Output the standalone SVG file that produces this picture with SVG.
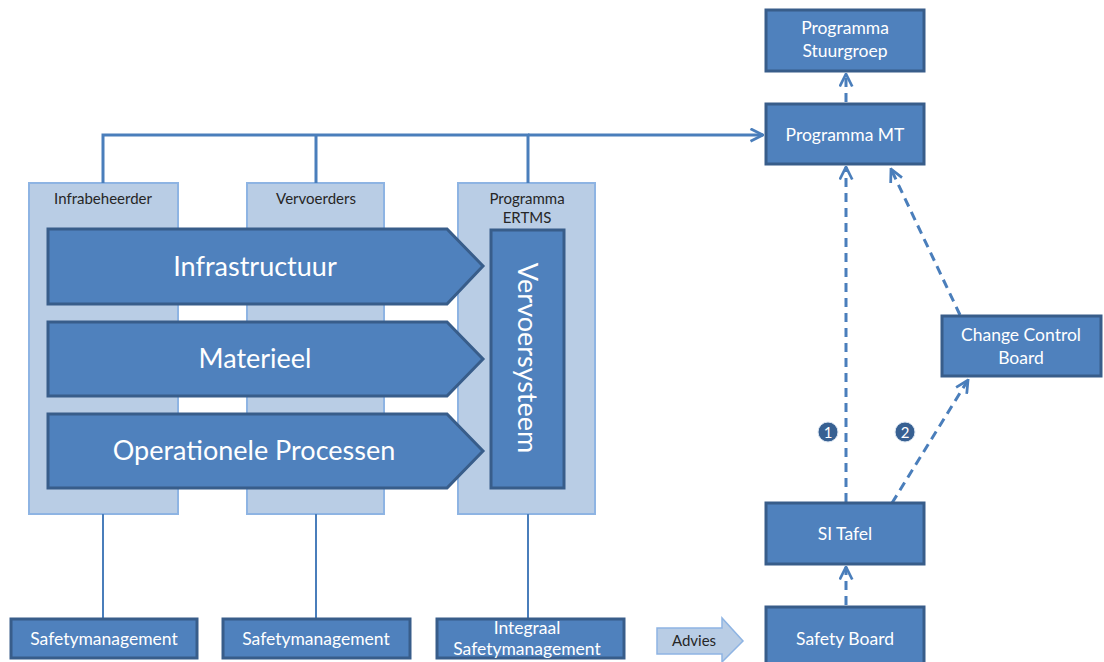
<svg xmlns="http://www.w3.org/2000/svg" width="1104" height="662" viewBox="0 0 1104 662">
  <defs>
    <style>
      .panel { fill: #B9CDE5; stroke: #8EB4E3; stroke-width: 2; }
      .box { fill: #4F81BD; stroke: #385D8A; stroke-width: 3; }
      .big { fill: #4F81BD; stroke: #385D8A; stroke-width: 3; stroke-linejoin: miter; }
      .t { font-family: Lato, "Open Sans", "Liberation Sans", sans-serif; fill: #FFFFFF; text-anchor: middle; }
      .s16 { font-size: 17.5px; }
      .s24 { font-size: 27px; }
      .lbl { font-family: Lato, "Open Sans", "Liberation Sans", sans-serif; font-size: 15px; fill: #262626; text-anchor: middle; }
      .solid { fill: none; stroke: #4A7EBB; stroke-width: 3; }
      .thin { fill: none; stroke: #4A7EBB; stroke-width: 2; }
      .dash { fill: none; stroke: #4A7EBB; stroke-width: 3; stroke-dasharray: 9 6; }
      .num { fill: #376092; stroke: #DCE6F2; stroke-width: 1; }
    </style>
    <marker id="open" viewBox="0 0 12 12" refX="11" refY="6" markerWidth="5" markerHeight="5" markerUnits="strokeWidth" orient="auto">
      <path d="M1,1 L11,6 L1,11" fill="none" stroke="#4A7EBB" stroke-width="2.2"/>
    </marker>
  </defs>

  <rect width="1104" height="662" fill="#FFFFFF"/>

  <!-- organisation columns -->
  <g id="infrabeheerder">
    <rect class="panel" x="29" y="183" width="149" height="331"/>
    <text class="lbl" x="103" y="204">Infrabeheerder</text>
  </g>
  <g id="vervoerders">
    <rect class="panel" x="247" y="183" width="137" height="331"/>
    <text class="lbl" x="316" y="204">Vervoerders</text>
  </g>
  <g id="programma-ertms">
    <rect class="panel" x="458" y="183" width="137" height="331"/>
    <text class="lbl" x="527" y="204">Programma</text>
    <text class="lbl" x="527" y="223">ERTMS</text>
  </g>

  <!-- connectors -->
  <g id="connectors">
    <path class="solid" d="M103,183 V135 H528 V183 M316,135 V183" />
    <line class="solid" x1="528" y1="135" x2="763" y2="135" marker-end="url(#open)"/>
    <line class="thin" x1="103" y1="514" x2="103" y2="618"/>
    <line class="thin" x1="316" y1="514" x2="316" y2="618"/>
    <line class="thin" x1="528" y1="514" x2="528" y2="618"/>
    <line class="dash" x1="846" y1="102" x2="846" y2="74" marker-end="url(#open)"/>
    <line class="dash" x1="846" y1="502" x2="846" y2="167" marker-end="url(#open)"/>
    <line class="dash" x1="960" y1="315" x2="891" y2="169" marker-end="url(#open)"/>
    <line class="dash" x1="892" y1="503" x2="968" y2="380" marker-end="url(#open)"/>
    <line class="dash" x1="846" y1="605" x2="846" y2="567" marker-end="url(#open)"/>
  </g>

  <!-- process chevrons -->
  <g id="infrastructuur">
    <polygon class="big" points="48,229 447,229 483,266 447,304 48,304"/>
    <text class="t s24" x="255" y="276">Infrastructuur</text>
  </g>
  <g id="materieel">
    <polygon class="big" points="48,322 447,322 483,359 447,396 48,396"/>
    <text class="t s24" x="255" y="368">Materieel</text>
  </g>
  <g id="operationele-processen">
    <polygon class="big" points="48,414 447,414 483,451 447,488 48,488"/>
    <text class="t s24" x="254" y="460">Operationele Processen</text>
  </g>
  <g id="vervoersysteem">
    <rect class="big" x="491" y="230" width="73" height="258"/>
    <text class="t s24" transform="translate(518,358) rotate(90)">Vervoersysteem</text>
  </g>

  <!-- safety management -->
  <g id="safetymanagement-1">
    <rect class="box" x="11" y="619" width="186" height="39"/>
    <text class="t s16" x="104" y="645">Safetymanagement</text>
  </g>
  <g id="safetymanagement-2">
    <rect class="box" x="223" y="619" width="187" height="39"/>
    <text class="t s16" x="316" y="645">Safetymanagement</text>
  </g>
  <g id="integraal-safetymanagement">
    <rect class="box" x="437" y="619" width="187" height="39"/>
    <text class="t s16" x="527" y="634">Integraal</text>
    <text class="t s16" x="527" y="655">Safetymanagement</text>
  </g>
  <g id="advies">
    <polygon points="657,628 722,628 722,618 743,641 722,662 722,654 657,654" fill="#B9CDE5" stroke="#8EB4E3" stroke-width="1.5"/>
    <text class="lbl" x="694" y="646">Advies</text>
  </g>

  <!-- governance -->
  <g id="programma-stuurgroep">
    <rect class="box" x="766" y="10" width="158" height="61"/>
    <text class="t s16" x="845" y="34">Programma</text>
    <text class="t s16" x="845" y="57">Stuurgroep</text>
  </g>
  <g id="programma-mt">
    <rect class="box" x="766" y="104" width="158" height="60"/>
    <text class="t s16" x="845" y="141">Programma  MT</text>
  </g>
  <g id="change-control-board">
    <rect class="box" x="942" y="316" width="159" height="60"/>
    <text class="t s16" x="1021" y="341">Change Control</text>
    <text class="t s16" x="1021" y="364">Board</text>
  </g>
  <g id="si-tafel">
    <rect class="box" x="766" y="503" width="158" height="61"/>
    <text class="t s16" x="845" y="540">SI Tafel</text>
  </g>
  <g id="safety-board">
    <rect class="box" x="766" y="607" width="158" height="60"/>
    <text class="t s16" x="845" y="645">Safety Board</text>
  </g>
  <g id="step-1">
    <circle class="num" cx="828" cy="432" r="10"/>
    <text class="t" x="828" y="438" font-size="15">1</text>
  </g>
  <g id="step-2">
    <circle class="num" cx="905" cy="432" r="10"/>
    <text class="t" x="905" y="438" font-size="15">2</text>
  </g>
</svg>
